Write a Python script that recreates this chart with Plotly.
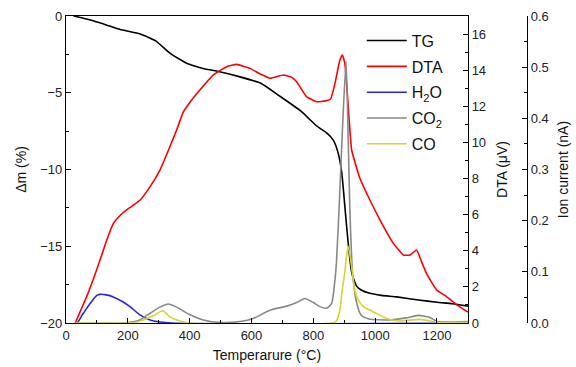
import plotly.graph_objects as go

# TG (mass change, %)
tg_T = [25, 50, 90, 130, 175, 240, 290, 335, 390, 440, 490, 560, 630, 690, 760, 810, 845,
        865, 880, 892, 902, 910, 918, 925, 940, 955, 980, 1020, 1070, 1140, 1200, 1250, 1300]
tg_v = [0, -0.12, -0.33, -0.58, -0.88, -1.17, -1.62, -2.4, -3.08, -3.4, -3.6, -3.95, -4.38, -5.2,
        -6.2, -7.15, -7.65, -8.1, -8.9, -10.2, -12.4, -14.2, -15.8, -16.8, -17.6, -17.85, -18.05,
        -18.2, -18.3, -18.5, -18.65, -18.75, -18.9]

# DTA (µV)
dta_T = [30, 45, 67, 90, 110, 132, 153, 175, 196, 220, 240, 272, 304, 336, 358, 380, 400, 433,
         476, 520, 552, 595, 627, 660, 703, 730, 746, 778, 811, 840, 856, 870, 886, 894, 902, 913,
         924, 940, 951, 983, 1016, 1059, 1091, 1113, 1134, 1150, 1166, 1199, 1231, 1264, 1300]
dta_v = [0, 0.6, 1.46, 2.5, 3.49, 4.6, 5.5, 5.95, 6.26, 6.55, 6.81, 7.55, 8.47, 9.76, 10.69, 11.7,
         12.2, 12.9, 13.73, 14.19, 14.32, 14.1, 13.8, 13.55, 13.73, 13.6, 13.36, 12.53, 12.25, 12.3,
         12.4, 13.27, 14.56, 14.84, 14.38, 11.98, 9.58, 8.6, 8.0, 6.81, 5.7, 4.41, 3.77, 3.77, 4.04,
         3.4, 2.75, 1.83, 1.46, 1.0, 0.6]

# Ion currents (nA)
h2o_T = [30, 35, 56, 78, 100, 110, 130, 153, 185, 207, 239, 272, 304, 340, 1300]
h2o_v = [0, 0, 0.019, 0.038, 0.054, 0.056, 0.055, 0.051, 0.041, 0.032, 0.016, 0.006, 0.002, 0, 0]

co2_T = [30, 200, 239, 272, 304, 331, 358, 401, 444, 500, 563, 606, 660, 714, 746, 773, 800,
         821, 843, 859, 870, 875, 886, 895, 906, 913, 918, 927, 940, 955, 980, 1050, 1100, 1140,
         1180, 1200, 1300]
co2_v = [0, 0.001, 0.006, 0.019, 0.031, 0.037, 0.031, 0.016, 0.006, 0.001, 0.003, 0.009, 0.025,
         0.033, 0.04, 0.048, 0.04, 0.032, 0.029, 0.038, 0.084, 0.12, 0.26, 0.39, 0.511, 0.358, 0.227,
         0.097, 0.04, 0.015, 0.008, 0.006, 0.01, 0.015, 0.01, 0.003, 0.003]

co_T = [30, 220, 250, 282, 313, 336, 369, 400, 860, 873, 886, 892, 902, 906, 913, 924, 934, 945,
        962, 994, 1037, 1080, 1140, 1180, 1210, 1300]
co_v = [0, 0.001, 0.006, 0.014, 0.024, 0.012, 0.004, 0, 0, 0.003, 0.025, 0.058, 0.1, 0.123, 0.15,
        0.11, 0.064, 0.045, 0.032, 0.022, 0.009, 0.004, 0.007, 0.004, 0.001, 0.001]

FONT = "Liberation Sans, Arial, sans-serif"

fig = go.Figure()
fig.add_trace(go.Scatter(x=tg_T, y=tg_v, name="TG", mode="lines", legendgroup="a",
                         line=dict(color="black", width=1.6, shape="spline", smoothing=0.5),
                         yaxis="y"))
fig.add_trace(go.Scatter(x=dta_T, y=dta_v, name="DTA", mode="lines", legendgroup="b",
                         line=dict(color="#ff0000", width=1.6, shape="spline", smoothing=0.4),
                         yaxis="y2"))
fig.add_trace(go.Scatter(x=h2o_T, y=h2o_v, name="H<sub>2</sub>O", mode="lines", legendgroup="c",
                         line=dict(color="#2626e0", width=1.6, shape="spline"), yaxis="y3"))
fig.add_trace(go.Scatter(x=co2_T, y=co2_v, name="CO<sub>2</sub>", mode="lines", legendgroup="d",
                         line=dict(color="#888888", width=1.6, shape="spline", smoothing=0.6),
                         yaxis="y3"))
fig.add_trace(go.Scatter(x=co_T, y=co_v, name="CO", mode="lines", legendgroup="e",
                         line=dict(color="#d6d62a", width=1.6, shape="spline", smoothing=0.6),
                         yaxis="y3"))

tickfont = dict(family=FONT, size=13, color="#222")
titlefont = dict(family=FONT, size=14, color="#111")

fig.update_layout(
    width=576, height=367,
    margin=dict(l=66, r=0, t=16, b=44),
    paper_bgcolor="white", plot_bgcolor="white",
    font=dict(family=FONT, color="#111"),
    showlegend=True,
    legend=dict(x=0.58, y=0.975, xanchor="left", yanchor="top",
                bgcolor="rgba(0,0,0,0)", font=dict(family=FONT, size=16, color="#111"),
                tracegroupgap=2, itemwidth=40),
    xaxis=dict(domain=[0, 0.788], range=[0, 1300], dtick=200, tick0=0,
               showline=True, linecolor="black", linewidth=1.3, mirror=True,
               ticks="inside", ticklen=5, tickcolor="black",
               minor=dict(ticks="inside", ticklen=3, dtick=100, tickcolor="black"),
               showgrid=False, zeroline=False, tickfont=tickfont,
               title=dict(text="Temperarure (°C)", font=titlefont, standoff=8)),
    yaxis=dict(range=[-20, 0], dtick=5, showline=True, linecolor="black", linewidth=1.3,
               ticks="inside", ticklen=5, tickcolor="black",
               minor=dict(ticks="inside", ticklen=3, dtick=2.5, tickcolor="black"),
               showgrid=False, zeroline=False, tickfont=tickfont,
               title=dict(text="Δm (%)", font=titlefont, standoff=10)),
    yaxis2=dict(range=[0, 17], dtick=2, overlaying="y", side="right", anchor="x",
                showline=True, linecolor="black", linewidth=1.3,
                ticks="inside", ticklen=5, tickcolor="black",
                minor=dict(ticks="inside", ticklen=3, dtick=1, tickcolor="black"),
                showgrid=False, zeroline=False, tickfont=tickfont,
                title=dict(text="DTA (μV)", font=titlefont, standoff=12)),
    yaxis3=dict(range=[0, 0.6], dtick=0.1, tickformat=".1f", overlaying="y", side="right",
                anchor="free", position=0.904,
                showline=True, linecolor="black", linewidth=1.3,
                ticks="inside", ticklen=5, tickcolor="black",
                minor=dict(ticks="inside", ticklen=3, dtick=0.05, tickcolor="black"),
                showgrid=False, zeroline=False, tickfont=tickfont,
                title=dict(text="Ion current (nA)", font=titlefont, standoff=10)),
)

fig.write_html("out.html")
